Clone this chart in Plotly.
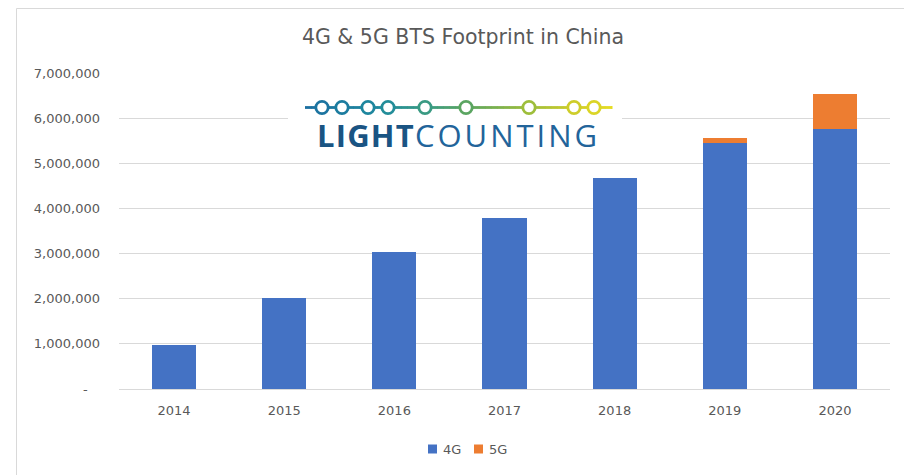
import plotly.graph_objects as go

years = ["2014", "2015", "2016", "2017", "2018", "2019", "2020"]
bts_4g = [980000, 2020000, 3040000, 3790000, 4670000, 5450000, 5750000]
bts_5g = [0, 0, 0, 0, 0, 120000, 785000]
series_names = ["4G", "5G"]
series_colors = ["#4472C4", "#ED7D31"]
y_ticks = [0, 1000000, 2000000, 3000000, 4000000, 5000000, 6000000, 7000000]
y_ticktext = ["-\u00a0\u00a0\u00a0", "1,000,000", "2,000,000", "3,000,000", "4,000,000",
              "5,000,000", "6,000,000", "7,000,000"]

OFF = 8  # page body margin
W, H = 912 - OFF, 475 - OFF
# plot area in page pixel coordinates
PL, PR, PT, PB = 119, 890, 73, 389
L, R, T, B = PL - OFF, PR - OFF, PT - OFF, PB - OFF
PW, PH = R - L, B - T


def px(x):
    return (x - PL) / PW


def py(y):
    return (PB - y) / PH


FONT = "DejaVu Sans"
GREY = "#595959"

fig = go.Figure()
fig.add_trace(go.Bar(x=years, y=bts_4g, name=series_names[0], showlegend=False,
                     marker=dict(color=series_colors[0], line=dict(width=0))))
fig.add_trace(go.Bar(x=years, y=bts_5g, name=series_names[1], showlegend=False,
                     marker=dict(color=series_colors[1], line=dict(width=0))))

shapes = []
# chart frame
shapes.append(dict(type="rect", xref="paper", yref="paper",
                   x0=px(16.5), x1=px(910.5), y0=py(490), y1=py(OFF + 0.5),
                   line=dict(color="#d9d9d9", width=1), fillcolor="rgba(0,0,0,0)", layer="below"))
# logo white background
shapes.append(dict(type="rect", xref="paper", yref="paper",
                   x0=px(288), x1=px(622), y0=py(160), y1=py(88),
                   line=dict(width=0), fillcolor="white", layer="above"))


def hex2rgb(h):
    h = h.lstrip("#")
    return tuple(int(h[i:i + 2], 16) for i in (0, 2, 4))


stops = [(305, "#1b6ea0"), (380, "#1e8a9e"), (430, "#3c9c80"), (470, "#5ea65e"),
         (530, "#9fbe3a"), (575, "#cfcd2a"), (612, "#e6dd22")]


def color_at(x):
    if x <= stops[0][0]:
        return stops[0][1]
    for (x0, c0), (x1, c1) in zip(stops, stops[1:]):
        if x0 <= x <= x1:
            t = (x - x0) / (x1 - x0)
            a, b = hex2rgb(c0), hex2rgb(c1)
            return "rgb(%d,%d,%d)" % tuple(round(a[i] + (b[i] - a[i]) * t) for i in range(3))
    return stops[-1][1]


ly = 107.5
xs = list(range(305, 613, 6)) + [612]
for a, b in zip(xs, xs[1:]):
    shapes.append(dict(type="line", xref="paper", yref="paper",
                       x0=px(a), x1=px(b + 0.5), y0=py(ly), y1=py(ly),
                       line=dict(color=color_at((a + b) / 2), width=2.8), layer="above"))
circ = [322, 342, 368, 388, 425, 466, 529, 574, 594]
r = 6.2
for cx in circ:
    shapes.append(dict(type="circle", xref="paper", yref="paper",
                       x0=px(cx - r), x1=px(cx + r), y0=py(ly + r), y1=py(ly - r),
                       line=dict(color=color_at(cx), width=2.8), fillcolor="white", layer="above"))

annotations = [
    dict(x=px(458), y=py(135), xref="paper", yref="paper", showarrow=False,
         text='<span style="letter-spacing:1.2px;color:#1a5483"><b>LIGHT</b></span>'
              '<span style="letter-spacing:3px">COUNTING</span>',
         xanchor="center", yanchor="middle",
         font=dict(family="Open Sans", size=31, color="#22649a")),
]

# legend (drawn manually to match the compact spreadsheet-style legend)
leg_y = 449
leg_items = [(428, 441), (474, 487)]
for (mx, tx), name, col in zip(leg_items, series_names, series_colors):
    shapes.append(dict(type="rect", xref="paper", yref="paper",
                       x0=px(mx), x1=px(mx + 9), y0=py(leg_y + 4.5), y1=py(leg_y - 4.5),
                       line=dict(width=0), fillcolor=col))
    annotations.append(dict(x=px(tx), y=py(leg_y), xref="paper", yref="paper", showarrow=False,
                            text=name, xanchor="left", yanchor="middle",
                            font=dict(family=FONT, size=13, color=GREY)))

fig.update_layout(
    width=W, height=H,
    margin=dict(l=L, r=W - R, t=T, b=H - B, pad=0),
    paper_bgcolor="white", plot_bgcolor="white",
    barmode="stack", bargap=0.6, showlegend=False,
    title=dict(text="4G & 5G BTS Footprint in China", x=(463 - OFF) / W, xanchor="center",
               y=1 - (37 - OFF) / H, yanchor="middle",
               font=dict(family=FONT, size=20.5, color=GREY)),
    font=dict(family=FONT, size=13, color=GREY),
    xaxis=dict(showgrid=False, showline=True, linecolor="#d9d9d9", linewidth=1,
               ticks="", ticklabelstandoff=9, tickfont=dict(family=FONT, size=13, color=GREY),
               fixedrange=True),
    yaxis=dict(range=[0, 7000000], tickvals=y_ticks, ticktext=y_ticktext,
               showgrid=True, gridcolor="#d9d9d9", gridwidth=1, zeroline=False,
               ticks="", ticklabelstandoff=18, tickfont=dict(family=FONT, size=13, color=GREY)),
    shapes=shapes, annotations=annotations,
)

fig.write_html("out.html")
